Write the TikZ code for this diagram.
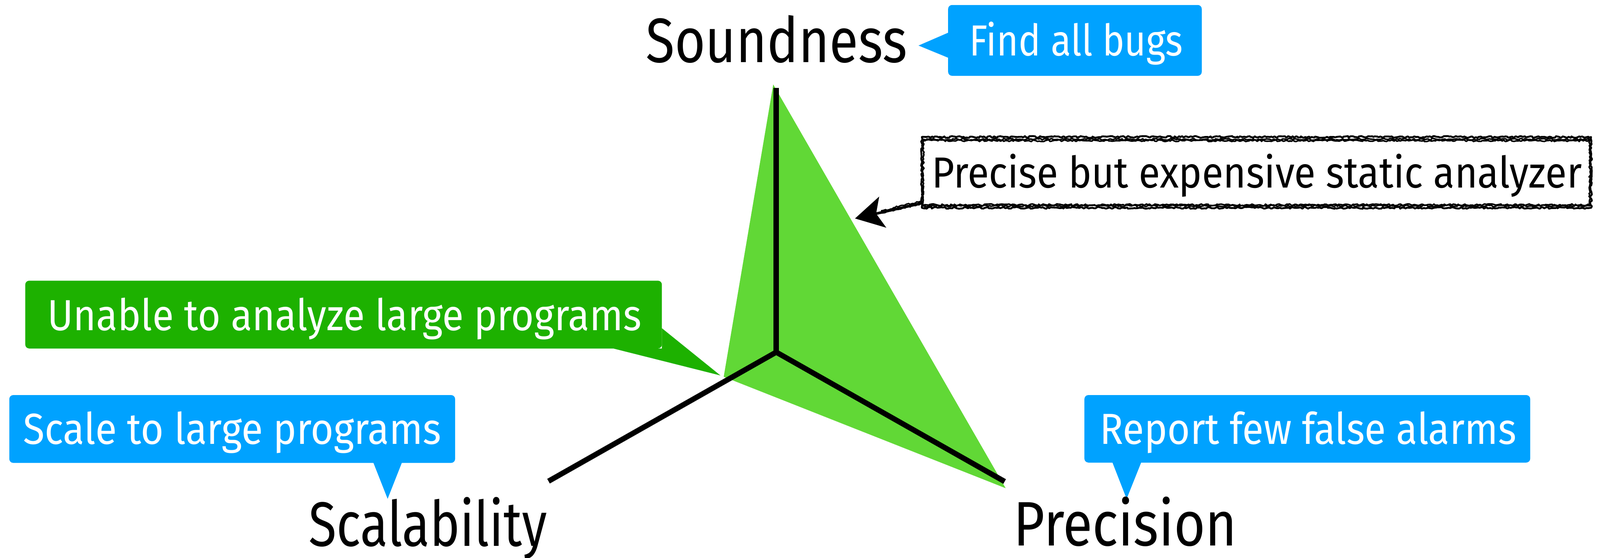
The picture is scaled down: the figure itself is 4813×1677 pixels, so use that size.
\documentclass[tikz,border=0pt]{standalone}
\usepackage{fontspec}
\usepackage{graphicx}
\setmainfont{Fira Sans}
\usetikzlibrary{arrows.meta,decorations.pathmorphing}
\definecolor{kblue}{RGB}{0,162,255}
\definecolor{kdgreen}{RGB}{29,177,0}
\definecolor{klgreen}{RGB}{97,216,54}
\newcommand\fitw[2]{\resizebox{#1}{\height}{#2}}
\newcommand\bigfnt{\fontsize{53.7pt}{60pt}\selectfont}
\newcommand\labfnt{\fontsize{37.2pt}{42pt}\selectfont}
\begin{document}
\begin{tikzpicture}[x=0.01cm,y=-0.01cm,
  lbl/.style={anchor=base west, inner sep=0pt, font=\labfnt, text=white},
  big/.style={anchor=base west, inner sep=0pt, font=\bigfnt, text=black},
  sketch/.style={decorate, decoration={random steps, segment length=1.5pt, amplitude=0.8pt}, line width=1.6pt, line join=round},
  bubble/.style={rounded corners=0.12cm}]
\useasboundingbox[fill=white] (0,0) rectangle (4813,1677);

% green triangle
\fill[klgreen] (2326,254) -- (3025,1468) -- (2177,1133) -- cycle;

% axes
\coordinate (o) at (2335,1059);
\coordinate (ts) at (2335,264);
\coordinate (tl) at (1650,1447);
\coordinate (tr) at (3022,1448);
\draw[line width=0.16cm] (ts) -- (o);
\draw[line width=0.16cm, line join=miter] (tl) -- (o) -- (tr);

% Find all bugs
\fill[kblue,bubble] (2852,15) rectangle (3615,228);
\fill[kblue] (2853,98) -- (2763,137) -- (2853,174) -- cycle;
\node[lbl] (fab) at (2915,168) {\fitw{6.42cm}{Find all bugs}};

% Unable to analyze
\fill[kdgreen,bubble] (76,844) rectangle (1991,1048);
\fill[kdgreen] (1991,987) -- (2167,1129) -- (1845,1048) -- (1991,1048) -- cycle;
\node[lbl] (unable) at (142,993) {\fitw{17.86cm}{Unable to analyze large programs}};

% Scale to large programs
\fill[kblue,bubble] (28,1188) rectangle (1369,1392);
\fill[kblue] (1123,1391) -- (1166,1500) -- (1209,1391) -- cycle;
\node[lbl] (scale) at (69,1336) {\fitw{12.57cm}{Scale to large programs}};

% Report few false alarms
\fill[kblue,bubble] (3262,1188) rectangle (4603,1391);
\fill[kblue] (3346,1390) -- (3389,1500) -- (3433,1390) -- cycle;
\node[lbl] (report) at (3308,1336) {\fitw{12.52cm}{Report few false alarms}};

% Precise but expensive (sketchy box)
\draw[sketch] (2773,412) rectangle (4786,625);
\draw[sketch, line width=1.3pt] (2777,419) rectangle (4782,619);
\draw[sketch, line width=1.3pt] (2778,423) -- (4780,423);
\draw[sketch, line width=1.3pt] (2778,616) -- (4780,616);
\node[big, font=\labfnt] (precise) at (2802,565) {\fitw{19.55cm}{Precise but expensive static analyzer}};
\coordinate (pstart) at (2773,611);
\coordinate (ptip) at (2572,657);
\draw[line width=2.2pt, -{Stealth[length=0.85cm, width=0.95cm, inset=0.2cm]}] (pstart) -- (ptip);
\draw[sketch] (pstart) -- (2650,640);
\draw[sketch, line width=1.2pt] (2770,605) -- (2650,634);

% axis labels
\node[big] (sound) at (1942,187) {\fitw{7.86cm}{Soundness}};
\node[big] (scal) at (928,1642) {\fitw{7.16cm}{Scalability}};
\node[big] (prec) at (3048,1641) {\fitw{6.72cm}{Precision}};
\end{tikzpicture}
\end{document}
